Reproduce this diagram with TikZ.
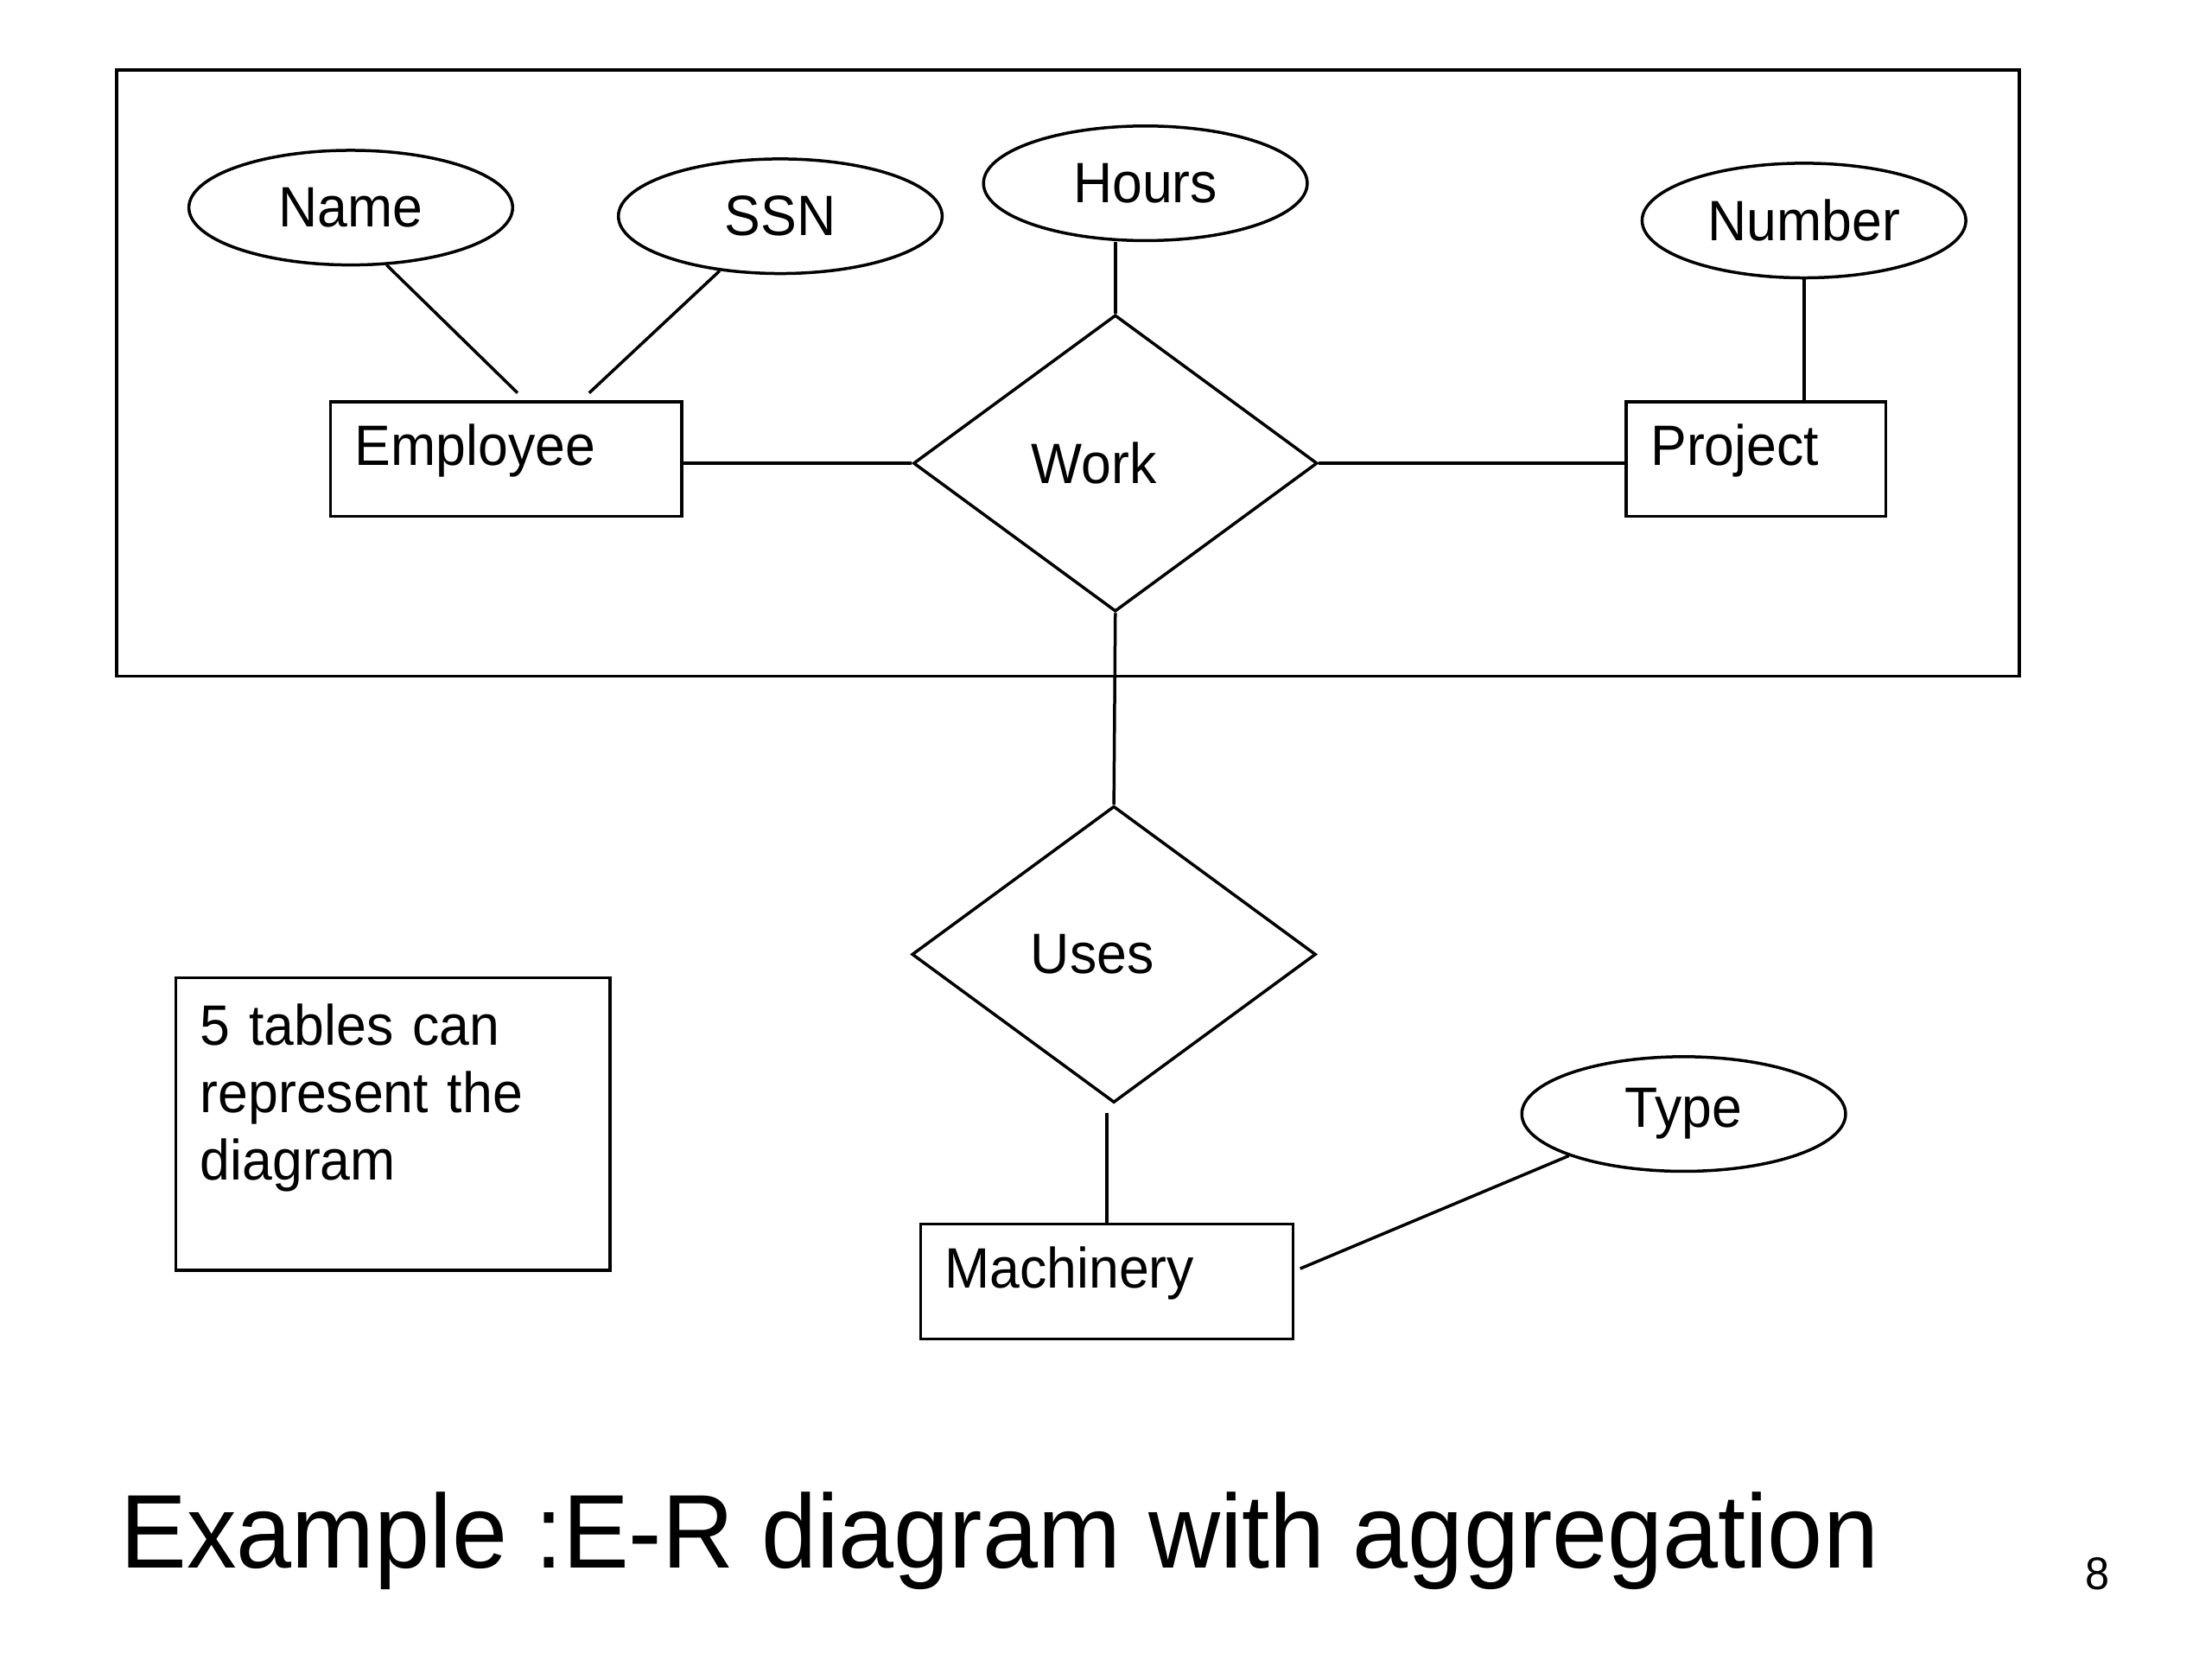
\documentclass[tikz,border=0pt]{standalone}
\usepackage{fontspec}
\setmainfont{Liberation Sans}[FakeStretch=0.95]
\usepackage{tikz}
\usetikzlibrary{shapes.geometric, calc, positioning}
\newcommand{\labelfont}{\fontsize{11.3}{13.4}\selectfont}
\tikzset{%
	entity/.style={
		rectangle,
		draw,
		minimum height=0.8cm,
		inner xsep=0.17cm,
		text depth=0.2cm,
		align=left,
		font=\labelfont
	},
	attribute/.style={
		ellipse,
		draw,
		minimum width=2.26cm,
		minimum height=0.8cm,
		inner sep=0pt,
		font=\labelfont
	},
	relation/.style={
		diamond,
		draw,
		minimum width=2.82cm,
		minimum height=2.07cm,
		inner sep=0pt,
		font=\labelfont,
		execute at end node=\hspace{0.3cm}
	},
	link/.style={
		line width=0.6pt
	},
}

\begin{document}
\begin{tikzpicture}[x=0.01cm, y=-0.01cm, line width=0.6pt]
			\useasboundingbox (0,0) rectangle (1545,1159);
			% Aggregation box round the Work relationship
			\node[draw, minimum width=13.28cm, minimum height=4.23cm] (agg) at (746,260.5) {};
			
			% Entities
			\node[entity, text width=2.11cm] (emp) at (353.5,320.5) {Employee};
			\node[entity, text width=1.47cm] (proj) at (1226.5,320.5) {Project};
			\node[entity, text width=2.26cm] (mach) at (773,895) {Machinery};
			
			% Relationships
			\node[relation] (work) at (779,323.5) {Work};
			\node[relation] (uses) at (778,666.5) {Uses};
			
			% Attributes
			\node[attribute] (name) at (245,145) {Name};
			\node[attribute] (ssn) at (545,151) {SSN};
			\node[attribute] (hours) at (800,128) {Hours};
			\node[attribute] (number) at (1260,154) {Number};
			\node[attribute] (type) at (1176,778) {Type};
			
			% Attribute links
			\draw[link] (name.-58) -- ($(emp.north)+(8,-5)$);
			\draw[link] (ssn.222) -- ($(emp.north)+(58,-5)$);
			\draw[link] (work.north |- hours.south) -- (work.north);
			\draw[link] (number.south) -- (number.south |- proj.north);
			\draw[link] (type.200) -- ($(mach.east)+(4,-9)$);
			
			% Relationship links
			\draw[link] (emp.east |- work.west) -- (work.west);
			\draw[link] (work.east) -- (work.east -| proj.west);
			\draw[link] (work.south) -- (uses.north);
			\draw[link] ($(mach.north |- uses.south)+(0,6)$) -- (mach.north);
			
			% Note
			\node[draw, text width=2.69cm, inner xsep=0.17cm, minimum height=2.04cm, text depth=1.39cm, align=left, font=\labelfont] (note) at (274.5,785) {5 tables can\\represent the\\diagram};
			
			% Caption
			\node[anchor=base west, inner sep=0pt, font=\fontsize{20.8}{25}\selectfont] (title) at (83,1095) {Example :E-R diagram with aggregation};
			\node[anchor=base, inner sep=0pt, font=\fontsize{9.1}{11}\selectfont] (page) at (1465,1110) {8};
		\end{tikzpicture}
\end{document}
